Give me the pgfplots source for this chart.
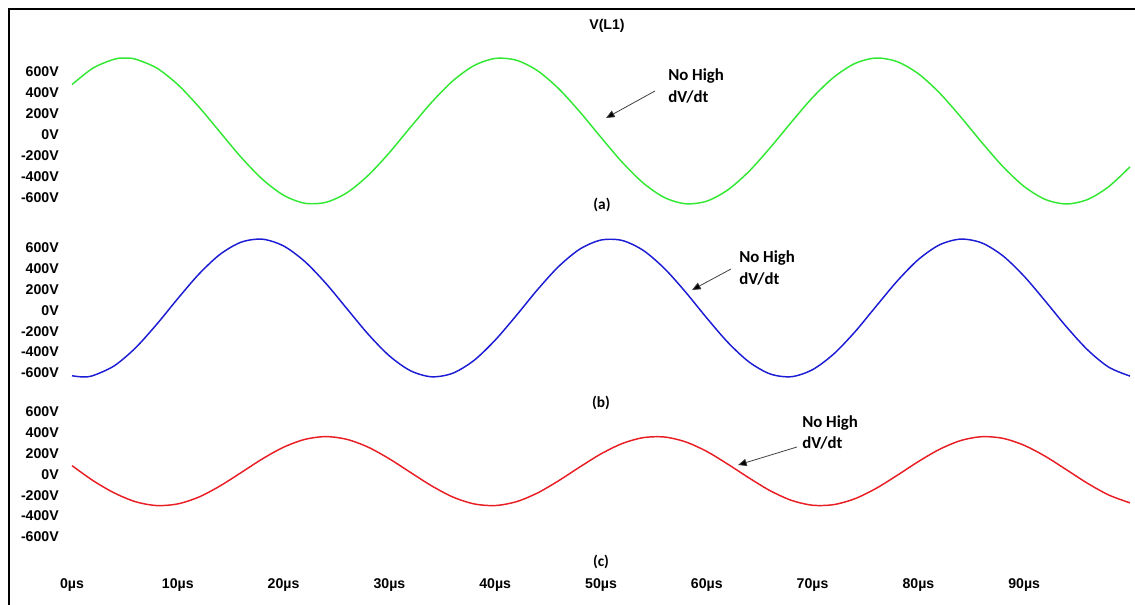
\documentclass[border=0pt]{standalone}
\usepackage{fontspec}
\setmainfont{Liberation Sans}
\newfontfamily\calibri{Carlito}
\usepackage{pgfplots}
\pgfplotsset{compat=1.18}
\usetikzlibrary{arrows.meta}

\definecolor{trA}{RGB}{51,232,51}
\definecolor{trB}{RGB}{28,28,212}
\definecolor{trC}{RGB}{232,30,36}

\pgfplotsset{
  panel/.style={
    scale only axis, width=793.5pt,
    xmin=0, xmax=100, ymin=-800, ymax=800,
    clip=false, anchor=south west,
    axis line style={draw=none}, tick style={draw=none},
    ytick={-600,-400,-200,0,200,400,600},
    yticklabels={-600V,-400V,-200V,0V,200V,400V,600V},
    yticklabel style={font=\fontsize{10.6}{12}\selectfont\bfseries, inner sep=0pt, xshift=-9.75pt},
    xtick=\empty,
  },
  trace/.style={line width=1.1pt, smooth},
}

\begin{document}
\begin{tikzpicture}
\useasboundingbox (0,0) rectangle (851.25pt,453.75pt);

% frame
\draw[line width=1.4pt] (6.75pt,0pt) -- (6.75pt,447pt) -- (852pt,447pt);

% (a) V(L1)
\begin{axis}[panel, at={(54pt,289.5pt)}, height=126pt]
\addplot[trace, trA] coordinates {
(0,480) (2,638) (4,722) (5,733) (6,722) (8,638) (10,480) (12,267) (14,26) (16,-214) (18,-422)
(20,-574) (22,-650) (24,-641) (26,-549) (28,-384) (30,-168) (32,75) (34,312) (36,516) (38,661)
(40,729) (42,712) (44,612) (46,441) (48,220) (50,-23) (52,-259) (54,-458) (56,-596) (58,-655)
(60,-630) (62,-522) (64,-345) (66,-120) (68,123) (70,357) (72,550) (74,681) (76,733) (78,698)
(80,583) (82,400) (84,172) (86,-72) (88,-302) (90,-491) (92,-614) (94,-657) (96,-614) (98,-491)
(100,-303)};
\end{axis}

% (b)
\begin{axis}[panel, at={(54pt,158.5pt)}, height=124.8pt]
\addplot[trace, trB] coordinates {
(0,-628) (1,-639) (2,-626) (4,-532) (6,-360) (8,-134) (10,114) (12,350) (14,540) (16,657) (18,685)
(20,620) (22,471) (24,260) (26,15) (28,-229) (30,-437) (32,-580) (34,-638) (36,-603) (38,-480)
(40,-285) (42,-48) (44,200) (46,423) (48,590) (50,677) (52,673) (54,577) (56,403) (58,176)
(60,-73) (62,-308) (64,-496) (66,-611) (68,-637) (70,-569) (72,-418) (74,-206) (76,40) (78,283)
(80,490) (82,631) (84,686) (86,649) (88,524) (90,328) (92,89) (94,-158) (96,-380) (98,-546)
(100,-631)};
\end{axis}

% (c)
\begin{axis}[panel, at={(54pt,35.5pt)}, height=124.8pt,
  xtick={0,10,20,30,40,50,60,70,80,90},
  xticklabels={0µs,10µs,20µs,30µs,40µs,50µs,60µs,70µs,80µs,90µs},
  xticklabel style={font=\fontsize{10.6}{12}\selectfont\bfseries, anchor=center, yshift=-20.5pt}]
\addplot[trace, trC] coordinates {
(0,85) (2,-60) (4,-178) (6,-262) (8,-299) (10,-283) (12,-217) (14,-110) (16,19) (18,150)
(20,262) (22,337) (24,364) (26,337) (28,262) (30,150) (32,19) (34,-110) (36,-217) (38,-283)
(40,-299) (42,-262) (44,-178) (46,-60) (48,72) (50,198) (52,297) (54,354) (56,360) (58,313)
(60,221) (62,98) (64,-34) (66,-157) (68,-249) (70,-296) (72,-290) (74,-233) (76,-134) (78,-8)
(80,124) (82,242) (84,326) (86,363) (88,347) (90,280) (92,174) (94,45) (96,-86) (98,-198)
(100,-273)};
\end{axis}

% titles and panel tags
\node[font=\fontsize{10.6}{12}\selectfont\bfseries] at (455.25pt,434.25pt) {V(L1)};
\node[font=\calibri\fontsize{11.5}{13}\selectfont\bfseries] at (451.5pt,300pt) {(a)};
\node[font=\calibri\fontsize{11.5}{13}\selectfont\bfseries] at (450.75pt,151.5pt) {(b)};
\node[font=\calibri\fontsize{11.5}{13}\selectfont\bfseries] at (450.75pt,32.25pt) {(c)};

% callouts
\tikzset{note/.style={font=\calibri\fontsize{12.6}{14}\selectfont\bfseries, anchor=west, inner sep=0pt},
         pointer/.style={draw=black!75, line width=0.6pt, -{Triangle[length=6.5pt,width=5.5pt,fill=black]}}}
\node[note] at (501pt,396.75pt) {No High};
\node[note] at (501pt,381pt) {dV/dt};
\draw[pointer] (491.25pt,385.5pt) -- (454.5pt,365.25pt);

\node[note] at (554.25pt,260.25pt) {No High};
\node[note] at (554.25pt,244.5pt) {dV/dt};
\draw[pointer] (548.25pt,252pt) -- (519pt,236.25pt);

\node[note] at (601.5pt,136.5pt) {No High};
\node[note] at (601.5pt,121.5pt) {dV/dt};
\draw[pointer] (597.75pt,118.5pt) -- (553.5pt,105pt);
\end{tikzpicture}
\end{document}
